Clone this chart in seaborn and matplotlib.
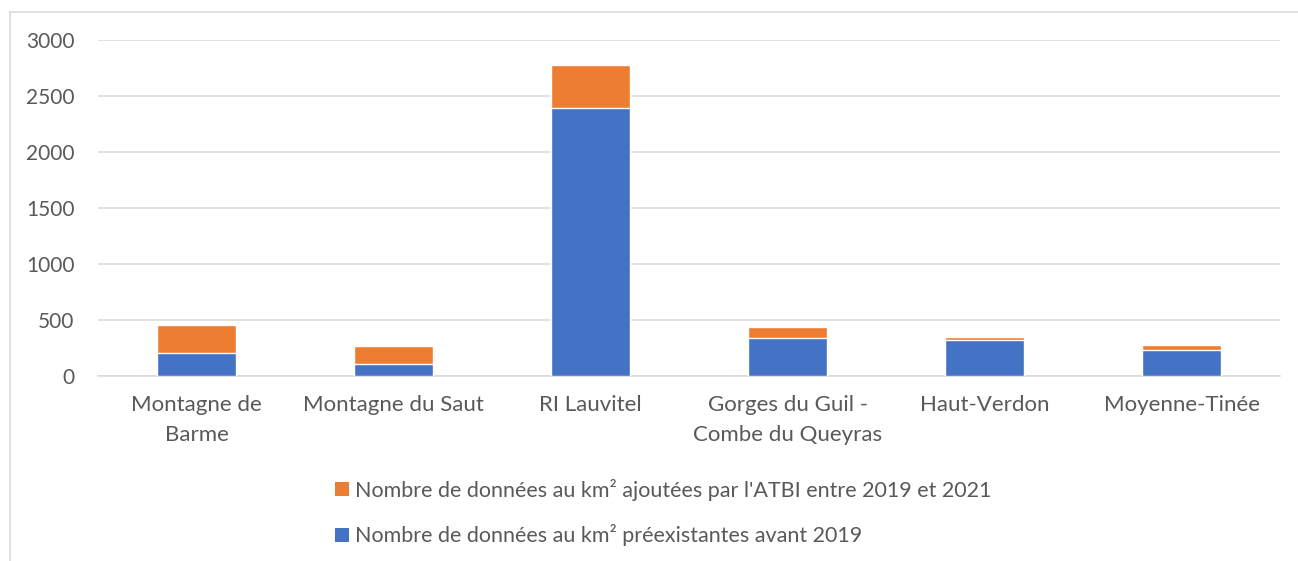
import matplotlib
matplotlib.use("Agg")
import matplotlib.pyplot as plt
import seaborn as sns
import pandas as pd
from matplotlib.patches import Patch
from matplotlib.lines import Line2D

categories = ["Montagne de\nBarme", "Montagne du Saut", "RI Lauvitel",
              "Gorges du Guil -\nCombe du Queyras", "Haut-Verdon", "Moyenne-Tinée"]
preexisting = [203, 107, 2393, 339, 321, 236]
added = [250, 158, 384, 96, 25, 38]
yticks = [0, 500, 1000, 1500, 2000, 2500, 3000]

label_added = "Nombre de données au km² ajoutées par l'ATBI entre 2019 et 2021"
label_pre = "Nombre de données au km² préexistantes avant 2019"

blue = "#4472C4"
orange = "#ED7D31"
text_col = "#595959"
grid_col = "#D9D9D9"

df = pd.DataFrame({
    "cat": categories,
    "pre": preexisting,
    "total": [p + a for p, a in zip(preexisting, added)],
})

sns.set_theme(style="white")
plt.rcParams["font.family"] = ["Lato", "DejaVu Sans"]

W, H = 1298, 561
fig = plt.figure(figsize=(W / 100, H / 100), dpi=100)
ax = fig.add_axes([98 / W, 1 - 376 / H, 1182 / W, 336 / H])

sns.barplot(data=df, x="cat", y="total", color=orange, saturation=1, width=0.4, ax=ax, zorder=3)
sns.barplot(data=df, x="cat", y="pre", color=blue, saturation=1, width=0.4, ax=ax, zorder=4)

ax.set_xlim(-0.5, len(categories) - 0.5)
ax.set_ylim(0, 3000)
ax.set_yticks(yticks)
ax.set_yticklabels([str(v) for v in yticks])
ax.yaxis.grid(True, color=grid_col, linewidth=1.1, zorder=0)
ax.set_axisbelow(True)
for s in ["top", "right", "left"]:
    ax.spines[s].set_visible(False)
ax.spines["bottom"].set_color(grid_col)
ax.spines["bottom"].set_linewidth(1.1)
ax.set_xlabel("")
ax.set_ylabel("")
ax.tick_params(axis="both", length=0, colors=text_col)
ax.tick_params(axis="y", labelsize=15, pad=17)
ax.tick_params(axis="x", labelsize=16, pad=14)
for t in ax.get_xticklabels():
    t.set_linespacing(1.6)

handles = [Patch(facecolor=orange, edgecolor="none", label=label_added),
           Patch(facecolor=blue, edgecolor="none", label=label_pre)]
leg = fig.legend(handles=handles, loc="center", bbox_to_anchor=(663.5 / W, 1 - 512.4 / H),
                 ncol=1, frameon=False, fontsize=15.5, handlelength=0.64, handleheight=0.64,
                 handletextpad=0.28, labelspacing=1.1, borderpad=0)
for t in leg.get_texts():
    t.set_color(text_col)

fig.add_artist(Line2D([9.5 / W, 9.5 / W], [0, 1 - 11.5 / H], transform=fig.transFigure,
                      color=grid_col, linewidth=1.1))
fig.add_artist(Line2D([9.5 / W, 1], [1 - 11.5 / H, 1 - 11.5 / H], transform=fig.transFigure,
                      color=grid_col, linewidth=1.1))

fig.savefig("out.png", dpi=100, facecolor="white")
